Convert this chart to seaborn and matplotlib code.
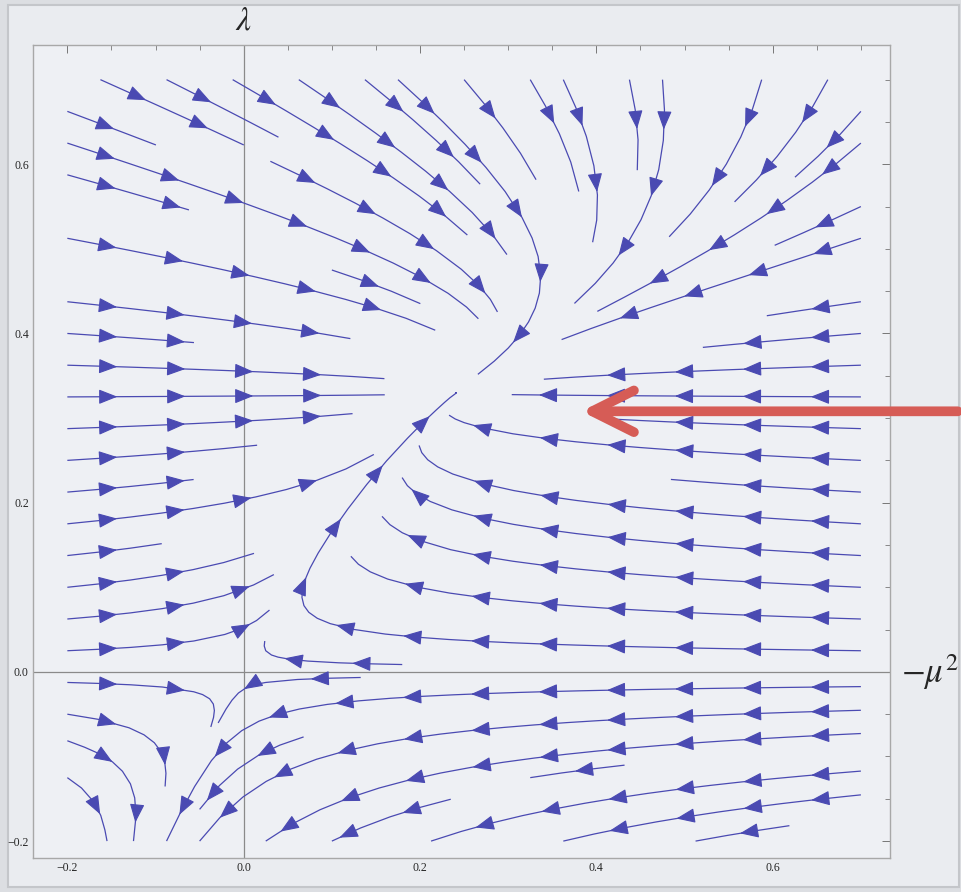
import numpy as np
import matplotlib
matplotlib.use("Agg")
import matplotlib.pyplot as plt
from matplotlib.patches import Rectangle, FancyArrowPatch
import seaborn as sns

# ---- data / parameters ----
fixed_point = [0.24, 0.33]          # (-mu^2, lambda) of the attractive fixed point
epsilon = 0.8                       # growth rate of lambda near the Gaussian point
x_range = [-0.2, 0.7]               # domain of the stream field
y_range = [-0.2, 0.7]
x_ticks = [-0.2, 0.0, 0.2, 0.4, 0.6]
y_ticks = [-0.2, 0.0, 0.2, 0.4, 0.6]
x_tick_labels = ["\u22120.2", "0.0", "0.2", "0.4", "0.6"]
y_tick_labels = ["\u22120.2", "0.0", "0.2", "0.4", "0.6"]
arrow_head = [0.383, 0.308]         # red annotation arrow tip
arrow_tail = [0.81, 0.308]

LINE_COLOR = "#4a4ab2"

sns.set_theme(style="white")
plt.rcParams["mathtext.fontset"] = "stix"
plt.rcParams["font.family"] = ["Liberation Serif", "DejaVu Serif"]

fig = plt.figure(figsize=(9.61, 8.92), dpi=100)
fig.patch.set_facecolor("#dcdee2")
fig.patches.append(Rectangle((0.008, 0.006), 0.99, 0.988, transform=fig.transFigure,
                             facecolor="#eaecf0", edgecolor="#c4c6ca", lw=1.5, zorder=-5))

ax = fig.add_axes([0.0343, 0.0381, 0.8918, 0.9115])
ax.set_facecolor("#eef0f4")
ax.set_xlim(-0.239, 0.733)
ax.set_ylim(-0.22, 0.741)

# vector field (beta functions) built from the fixed point parameters
xs = np.linspace(x_range[0], x_range[1], 240)
ys = np.linspace(y_range[0], y_range[1], 240)
X, Y = np.meshgrid(xs, ys)
A = 2 * fixed_point[0] / fixed_point[1]
B = epsilon / fixed_point[1]
U = -2 * X + A * Y
V = epsilon * Y - B * Y ** 2

ax.axhline(0, color="#8a8a8a", lw=0.9, zorder=1)
ax.axvline(0, color="#8a8a8a", lw=0.9, zorder=1)

n_before = len(ax.patches)
res = ax.streamplot(X, Y, U, V, density=0.85, color=LINE_COLOR, linewidth=0.9,
                    arrowsize=1.0, arrowstyle="-|>", zorder=3)
for p in list(ax.patches)[n_before:]:
    p.remove()
ax.set_xlim(-0.239, 0.733)
ax.set_ylim(-0.22, 0.741)

# collect whole streamlines (chain 2-point pieces if needed), then put arrows along them
segs = res.lines.get_segments()
lines, cur = [], []
for s in segs:
    s = np.asarray(s)
    if len(s) > 2:
        if len(cur) > 1:
            lines.append(np.array(cur))
        cur = []
        lines.append(s)
        continue
    if cur and np.allclose(cur[-1], s[0]):
        cur.append(s[1])
    else:
        if len(cur) > 1:
            lines.append(np.array(cur))
        cur = [s[0], s[1]]
if len(cur) > 1:
    lines.append(np.array(cur))

to_disp = ax.transData
to_data = ax.transData.inverted()
first, step = 50.0, 68.0
for ln in lines:
    d = to_disp.transform(ln)
    seglen = np.hypot(*np.diff(d, axis=0).T)
    cum = np.concatenate([[0], np.cumsum(seglen)])
    L = cum[-1]
    if L < 20:
        continue
    pos = first if L > first + 10 else L * 0.6
    while pos < L - 8:
        tip = np.array([np.interp(pos, cum, d[:, 0]), np.interp(pos, cum, d[:, 1])])
        back = np.array([np.interp(pos - 3, cum, d[:, 0]), np.interp(pos - 3, cum, d[:, 1])])
        p1, p2 = to_data.transform([back, tip])
        ax.add_patch(FancyArrowPatch(p1, p2, arrowstyle="-|>,head_length=0.58,head_width=0.23",
                                     mutation_scale=20, color=LINE_COLOR, lw=0.8,
                                     shrinkA=0, shrinkB=0, zorder=4))
        pos += step

ax.set_xticks(x_ticks)
ax.set_xticklabels(x_tick_labels)
ax.set_yticks(y_ticks)
ax.set_yticklabels(y_tick_labels)
ax.set_xticks(np.arange(-0.2, 0.71, 0.05), minor=True)
ax.set_yticks(np.arange(-0.2, 0.71, 0.05), minor=True)
ax.tick_params(which="both", direction="in", top=True, right=True, color="#777777",
               labelsize=8.5, pad=3)
ax.tick_params(which="major", length=6, width=0.7)
ax.tick_params(which="minor", length=3.5, width=0.6)
for s in ax.spines.values():
    s.set_color("#a8a8a8")
    s.set_linewidth(1.0)

ax.text(0.0, 0.769, r"$\lambda$", fontsize=24, ha="center", va="center", clip_on=False)
ax.text(0.745, 0.0, r"$-\mu^2$", fontsize=25, ha="left", va="center", clip_on=False)

ax.annotate("", xy=arrow_head, xytext=arrow_tail, annotation_clip=False,
            arrowprops=dict(arrowstyle="->,head_length=1.5,head_width=0.75",
                            mutation_scale=20, color="#d65c56", lw=7,
                            capstyle="round", joinstyle="round", shrinkA=0, shrinkB=0),
            zorder=6)

fig.savefig("out.png", dpi=100, facecolor=fig.get_facecolor())
